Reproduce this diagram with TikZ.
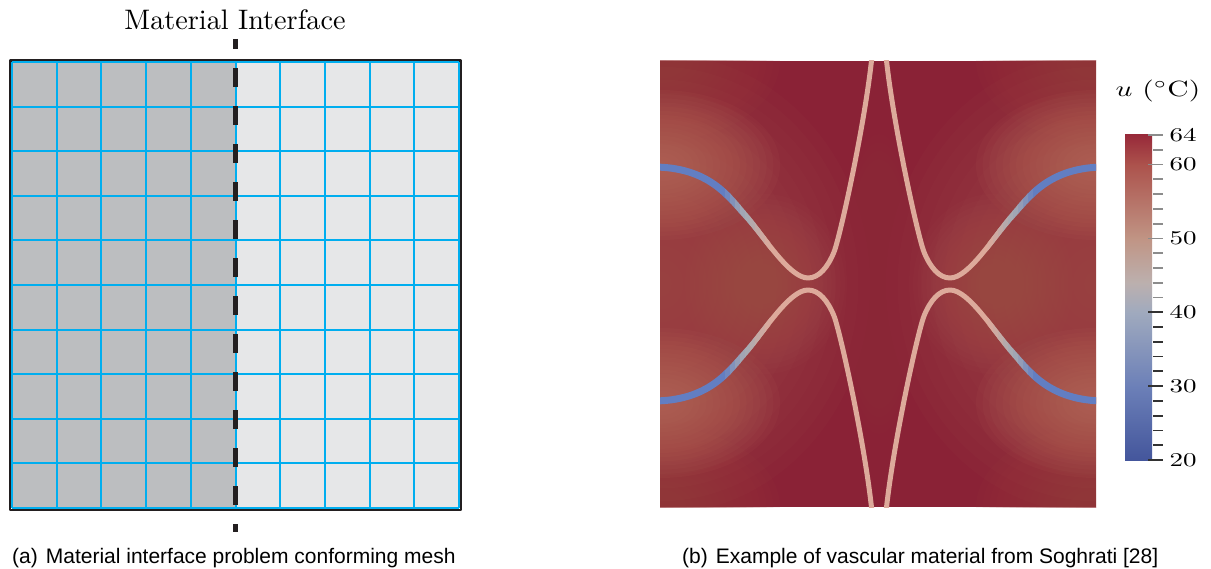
\documentclass[tikz,border=0pt]{standalone}
\usepackage{fontspec}
\newfontfamily\capfont{Liberation Sans}
\definecolor{gleft}{RGB}{188,190,192}
\definecolor{gright}{RGB}{230,231,232}
\definecolor{meshblue}{RGB}{0,174,239}
\definecolor{ink}{RGB}{35,31,32}
\definecolor{fieldbase}{RGB}{138,34,54}
\definecolor{fmed}{RGB}{166,84,78}
\definecolor{flight}{RGB}{190,116,94}
\definecolor{fcorner}{RGB}{156,64,68}
\definecolor{fcen}{RGB}{150,52,64}
\definecolor{chpink}{RGB}{221,170,155}
\definecolor{chblue}{RGB}{98,126,194}
\definecolor{chgray}{RGB}{168,170,178}
\definecolor{c20}{RGB}{68,86,156}
\definecolor{c30}{RGB}{108,128,184}
\definecolor{c40}{RGB}{160,170,190}
\definecolor{c44}{RGB}{188,176,174}
\definecolor{c50}{RGB}{192,148,132}
\definecolor{c60}{RGB}{172,82,76}
\definecolor{c64}{RGB}{152,42,58}
\definecolor{tickdark}{RGB}{50,50,50}
\definecolor{ticklight}{RGB}{140,140,140}
\newcommand\blob[5]{%
  \foreach \k in {1,...,18}{%
    \pgfmathsetmacro\rx{#3*\k/18}\pgfmathsetmacro\ry{#4*\k/18}%
    \fill[#5, fill opacity=0.066] (#1,#2) ellipse ({\rx pt} and {\ry pt});}}
\newcommand\chandraw[2]{%
  \draw[draw=#1, line width=#2, line cap=round] (-226,-117) .. controls (-170,-117) and (-150,-87) .. (-134,-69) .. controls (-115,-48) and (-90,-6) .. (-71,-6) .. controls (-60,-6) and (-51,-17) .. (-45,-32) .. controls (-39,-47) and (-14,-160) .. (-7,-228);}
\tikzset{
  meshline/.style={draw=meshblue, line width=2pt},
  ifline/.style={draw=ink, line width=4.3pt, dash pattern=on 19pt off 19pt, dash phase=9pt},
  cblabel/.style={anchor=west, inner sep=0pt, xscale=2.7, yscale=1.95},
  caption/.style={anchor=base west, inner sep=0pt, font=\capfont\fontsize{21}{25}\selectfont}
}
\begin{document}
\begin{tikzpicture}[x=1pt, y=-1pt, line join=round]
\useasboundingbox (0,0) rectangle (1211,569);

% ---------- (a) conforming mesh ----------
\fill[gleft] (12,62) rectangle (235.5,508);
\fill[gright] (235.5,62) rectangle (459,508);
\draw[ink, line width=2.5pt] (9.8,60.3) rectangle (460.8,510.2);
\foreach \i in {0,...,10}{
  \draw[meshline] ({12+44.7*\i},62) -- ({12+44.7*\i},508);
  \draw[meshline] (12,{62+44.6*\i}) -- (459,{62+44.6*\i});
}
\coordinate (itop) at (235.5,39);
\coordinate (ibot) at (235.5,532);
\draw[ifline] (itop) -- (ibot);
\node[scale=2.82, inner sep=0pt, anchor=base] (title) at (235,30) {Material Interface};
\node[caption] (capa) at (12,563) {(a)\hspace{8pt}Material interface problem conforming mesh};

% ---------- (b) vascular material ----------
\begin{scope}
\clip (660,61) rectangle (1096,507);
\fill[fieldbase] (660,61) rectangle (1096,507);
\blob{660}{61}{120}{80}{fcorner}
\blob{1096}{61}{120}{80}{fcorner}
\blob{660}{507}{120}{80}{fcorner}
\blob{1096}{507}{120}{80}{fcorner}
\blob{660}{284}{210}{230}{fmed}
\blob{1096}{284}{210}{230}{fmed}
\blob{660}{165}{120}{75}{flight}
\blob{660}{403}{120}{75}{flight}
\blob{1096}{165}{120}{75}{flight}
\blob{1096}{403}{120}{75}{flight}
\blob{765}{284}{80}{90}{fmed}
\blob{993}{284}{80}{90}{fmed}
\blob{879}{284}{40}{150}{fcen}
\foreach \sx/\sy in {1/1,-1/1,1/-1,-1/-1}{
  \begin{scope}[shift={(879,284)}, xscale=\sx, yscale=\sy]
    \chandraw{chpink}{5pt}
    \begin{scope}
      \clip (-240,-300) rectangle (-153.8,300);
      \chandraw{chblue}{7pt}
    \end{scope}
    \foreach \a/\c/\w in {-154/chblue!80!chgray/6.8, -149/chblue!55!chgray/6.5, -144/chblue!30!chgray/6.3, -139/chblue!10!chgray/6.0, -134/chgray/5.8, -129/chgray!75!chpink/5.6, -124/chgray!50!chpink/5.4, -119/chgray!30!chpink/5.2, -114/chgray!12!chpink/5.1}{
      \begin{scope}
        \clip (\a,-300) rectangle ({\a+5.3},300);
        \chandraw{\c}{\w pt}
      \end{scope}
    }
  \end{scope}
}
\end{scope}

% colour bar
\shade[bottom color=c20, top color=c30] (1125,460) rectangle (1152,385.8);
\shade[bottom color=c30, top color=c40] (1125,386.2) rectangle (1152,312);
\shade[bottom color=c40, top color=c44] (1125,312.4) rectangle (1152,282.4);
\shade[bottom color=c44, top color=c50] (1125,282.8) rectangle (1152,238.1);
\shade[bottom color=c50, top color=c60] (1125,238.5) rectangle (1152,164.2);
\shade[bottom color=c60, top color=c64] (1125,164.6) rectangle (1152,135);
\foreach \T in {20,30,40,50,60,64}{
  \pgfmathsetmacro\yy{460-(\T-20)*325/44}
  \ifnum\T<41 \def\tcol{tickdark}\else\def\tcol{ticklight}\fi
  \draw[draw=\tcol, line width=1.8pt] (1148,\yy) -- (1163,\yy);
  \node[cblabel] (lab\T) at (1169,\yy) {\T};
}
\foreach \T in {22,24,26,28,32,34,36,38,42,44,46,48,52,54,56,58,62}{
  \pgfmathsetmacro\yy{460-(\T-20)*325/44}
  \ifnum\T<41 \def\tcol{tickdark}\else\def\tcol{ticklight}\fi
  \draw[draw=\tcol, line width=1.8pt] (1153,\yy) -- (1163,\yy);
}
\node[inner sep=0pt, xscale=2.95, yscale=2.2] (ulab) at (1158,91) {$u$ ($^\circ$C)};
\node[caption] (capb) at (682,563) {(b)\hspace{8pt}Example of vascular material from Soghrati [28]};
\end{tikzpicture}
\end{document}
